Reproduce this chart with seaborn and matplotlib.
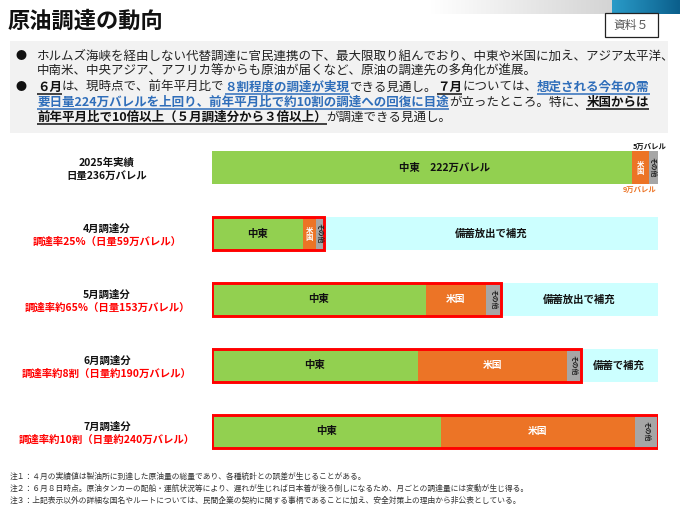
import numpy as np
import pandas as pd
import matplotlib
matplotlib.use('Agg')
import matplotlib.pyplot as plt
import seaborn as sns

sns.set_style('white')
plt.rcParams['font.family'] = ['Noto Sans CJK JP', 'DejaVu Sans']

# data (万バレル/日)
rows = ['2025年', '4月', '5月', '6月', '7月']
row_titles = ['2025年実績', '4月調達分', '5月調達分', '6月調達分', '7月調達分']
row_notes = ['日量236万バレル',
             '調達率25%（日量59万バレル）',
             '調達率約65%（日量153万バレル）',
             '調達率約8割（日量約190万バレル）',
             '調達率約10割（日量約240万バレル）']
mideast = [222, 48, 113, 109, 121]
usa = [9, 7, 32, 79, 103]
other = [5, 4, 8, 7, 12]
reserve_text = ['', '備蓄放出で補充', '備蓄放出で補充', '備蓄で補充', '']
baseline_total = 236

title = '原油調達の動向'
doc_label = '資料５'
notes = ['注１：４月の実績値は製油所に到達した原油量の総量であり、各種統計との誤差が生じることがある。',
         '注２：６月８日時点。原油タンカーの配船・運航状況等により、遅れが生じれば日本着が後ろ倒しになるため、月ごとの調達量には変動が生じ得る。',
         '注３：上記表示以外の詳細な国名やルートについては、民間企業の契約に関する事柄であることに加え、安全対策上の理由から非公表としている。']

GREEN = '#92D050'
ORANGE = '#EC7426'
GRAY = '#A6A6A6'
CYAN = '#CCFFFF'
RED = '#FF0000'
BLUE = '#2F6EBA'

df = pd.DataFrame({'row': rows, 'me': mideast, 'us': usa, 'ot': other, 'reserve': reserve_text})
df['me_us'] = df['me'] + df['us']
df['total'] = df['me_us'] + df['ot']
df['cap'] = baseline_total

fig = plt.figure(figsize=(6.8, 5.09), dpi=100)
bg = fig.add_axes([0, 0, 1, 1])
bg.axis('off')

# header decoration (top right)
grad = np.linspace(0, 1, 100)[None, :]
bg.imshow(grad, extent=(430, 612, 14, 0), cmap=matplotlib.colors.LinearSegmentedColormap.from_list('g', ['#FFFFFF', '#D4D4D4']), aspect='auto')
bg.imshow(grad, extent=(612, 680, 14, 0), cmap=matplotlib.colors.LinearSegmentedColormap.from_list('b', ['#2A9BC8', '#0B5F8C']), aspect='auto')

bg.text(8, 21, title, fontsize=16, fontweight='bold', va='center', ha='left', color='#111111')
bg.add_patch(plt.Rectangle((605, 13), 53, 24, facecolor='white', edgecolor='#222222', lw=0.9))
bg.text(631.5, 25, doc_label, fontsize=8.5, ha='center', va='center', color='#555555')

# summary box
bg.add_patch(plt.Rectangle((10, 41), 658, 92, facecolor='#F2F2F2', edgecolor='none'))

renderer = fig.canvas.get_renderer()
bg.set_xlim(0, 680)
bg.set_ylim(509, 0)

NORMAL = ('#222222', 'normal', False)
BOLDUL = ('#111111', 'bold', True)
BLUEUL = (BLUE, 'bold', True)


def rich_line(x, y, runs, size=9):
    for text, (color, weight, underline) in runs:
        t = bg.text(x, y, text, fontsize=size, color=color, fontweight=weight,
                    ha='left', va='center')
        bb = t.get_window_extent(renderer)
        x1 = bg.transData.inverted().transform((bb.x1, bb.y0))[0]
        if underline:
            bg.plot([x, x1], [y + 7, y + 7], color=color, lw=1.1, solid_capstyle='butt')
        x = x1


for yb in (56, 87):
    bg.text(21, yb, '●', fontsize=8, ha='center', va='center', color='#111111')

rich_line(37, 56, [('ホルムズ海峡を経由しない代替調達に官民連携の下、最大限取り組んでおり、中東や米国に加え、アジア太平洋、', NORMAL)])
rich_line(37, 71, [('中南米、中央アジア、アフリカ等からも原油が届くなど、原油の調達先の多角化が進展。', NORMAL)])
rich_line(37, 87, [('６月', BOLDUL), ('は、現時点で、前年平月比で', NORMAL), ('８割程度の調達が実現', BLUEUL),
                   ('できる見通し。', NORMAL), ('７月', BOLDUL), ('については、', NORMAL), ('想定される今年の需', BLUEUL)])
rich_line(37, 102, [('要日量224万バレルを上回り、前年平月比で約10割の調達への回復に目途', BLUEUL),
                    ('が立ったところ。特に、', NORMAL), ('米国からは', BOLDUL)])
rich_line(37, 117, [('前年平月比で10倍以上（５月調達分から３倍以上）', BOLDUL), ('が調達できる見通し。', NORMAL)])

# bar chart area
ax = fig.add_axes([212 / 680, (509 - 465) / 509, 446 / 680, 325 / 509])
common = dict(y='row', order=rows, orient='h', width=0.5, saturation=1,
              errorbar=None, linewidth=0, ax=ax)
sns.barplot(data=df[df['reserve'] != ''], x='cap', color=CYAN, **common)
sns.barplot(data=df, x='total', color=GRAY, **common)
sns.barplot(data=df, x='me_us', color=ORANGE, **common)
sns.barplot(data=df, x='me', color=GREEN, **common)
box = dict(common, linewidth=2.1)
sns.barplot(data=df.iloc[1:], x='total', color=RED, fill=False, **box)
ax.set_xlim(0, baseline_total)
ax.set_ylim(4.508, -0.417)
ax.axis('off')

for i, r in df.iterrows():
    if i == 0:
        ax.text(r['me'] / 2 + 12, i, f"中東　{r['me']}万バレル", ha='center', va='center',
                fontsize=7.5, fontweight='bold', color='#111111')
    else:
        ax.text(r['me'] / 2, i, '中東', ha='center', va='center',
                fontsize=7.5, fontweight='bold', color='#111111')
    if r['us'] < 15:
        ax.text(r['me'] + r['us'] / 2, i, '米\n国', ha='center', va='center', linespacing=1.0,
                fontsize=5.3, fontweight='bold', color='white')
    else:
        ax.text(r['me'] + r['us'] / 2, i, '米国', ha='center', va='center',
                fontsize=7, fontweight='bold', color='white')
    ax.text(r['me_us'] + r['ot'] / 2, i, 'その他', ha='center', va='center', rotation=-90,
            fontsize=4.9, fontweight='bold', color='#222222')
    if r['reserve']:
        ax.text((r['total'] + baseline_total) / 2, i, r['reserve'], ha='center', va='center',
                fontsize=7.5, fontweight='bold', color='#111111')

ax.text(df.loc[0, 'me_us'] + df.loc[0, 'ot'] / 2 - 2, -0.27, f"{other[0]}万バレル", ha='center', va='bottom',
        fontsize=5.3, fontweight='bold', color='#111111')
ax.text(df.loc[0, 'me'] + df.loc[0, 'us'] / 2, 0.28, f"{usa[0]}万バレル", ha='center', va='top',
        fontsize=5.3, fontweight='bold', color=ORANGE)

# row labels on the left
for i in range(len(rows)):
    yc = 167.5 + 66 * i
    bg.text(107, yc - 4.5, row_titles[i], ha='center', va='center', fontsize=7.5,
            fontweight='bold', color='#111111')
    bg.text(107, yc + 8.5, row_notes[i], ha='center', va='center', fontsize=7.5,
            fontweight='bold', color='#111111' if i == 0 else RED)

for k, n in enumerate(notes):
    bg.text(10, 477 + 12 * k, n, ha='left', va='center', fontsize=5.6, color='#333333')

fig.savefig('out.png', dpi=100)
